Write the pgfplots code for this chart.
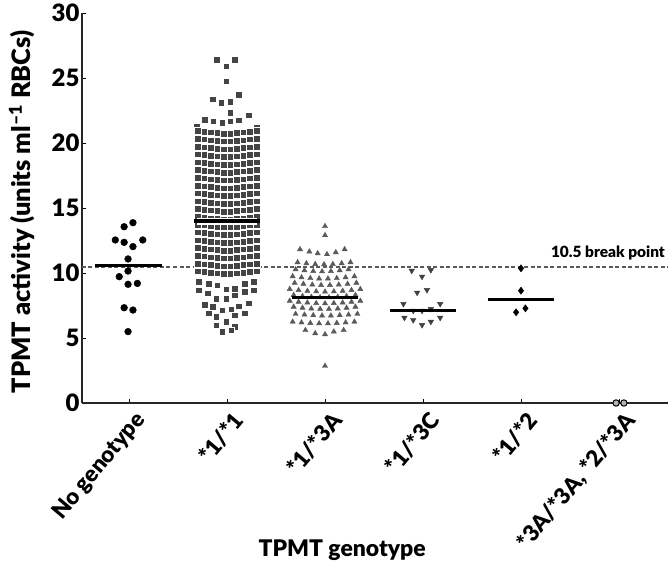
\documentclass[border=0pt]{standalone}
\usepackage{fontspec}
\setmainfont{Lato}[BoldFont={Lato Black}]
\usepackage{pgfplots}
\pgfplotsset{compat=1.18}
\definecolor{sq}{HTML}{444444}
\definecolor{tri}{HTML}{5A5A5A}
\definecolor{dash}{HTML}{5A5A5A}
\begin{document}
\begin{tikzpicture}
\begin{axis}[name=ax,
 width=586bp, height=390bp, scale only axis,
 xmin=-0.48, xmax=5.5, ymin=0, ymax=30,
 axis lines*=left,
 axis line style={line width=2.6bp, color=black!85},
 xtick={0,1,2,3,4,5},
 xticklabels={No genotype, *1/*1, *1/*3A, *1/*3C, *1/*2, {*3A/*3A, *2/*3A}},
 ytick={0,5,10,15,20,25,30},
 tick style={black, line width=0.6bp},
 major tick length=4bp,
 tick align=inside,
 xticklabel style={rotate=50, anchor=east, yshift=-18bp, xshift=1bp, font=\bfseries\fontsize{22.5}{22.5}\selectfont},
 yticklabel style={font=\bfseries\fontsize{24}{24}\selectfont, xshift=1bp},
 xlabel={TPMT genotype},
 ylabel={TPMT activity (units ml\textsuperscript{–1} RBCs)},
 xlabel style={font=\bfseries\fontsize{23}{23}\selectfont, at={(rel axis cs:0.444,0)}, anchor=center, yshift=-147bp},
 ylabel style={font=\bfseries\fontsize{25.5}{25.5}\selectfont, at={(rel axis cs:0,0.49)}, anchor=center, yshift=60bp},
 clip=false, clip marker paths=true,
 /pgf/number format/assume math mode=true,
]
% break point line
\addplot[color=dash, line width=2bp, dash pattern=on 4bp off 2.5bp] coordinates {(-0.48,10.5) (5.5,10.5)};
% No genotype
\addplot[only marks, mark=*, mark size=3.4bp, black] coordinates {
(0.04,13.87)(-0.05,13.56)(-0.14,12.54)(-0.05,12.36)(0.14,12.54)(0.04,12.03)(-0.01,11.08)
(-0.01,10.15)(-0.10,9.72)(-0.01,9.13)(0.085,9.2)(-0.05,7.33)(0.04,7.15)(-0.01,5.49)};
% *1/*1
\addplot[only marks, mark=square*, mark size=3.3bp, color=sq, mark options={draw=white, line width=0.25bp}] coordinates {
(0.895,26.43)(1.08,26.43)(0.99,25.92)(0.99,24.77)(0.85,23.36)(0.94,23.1)(1.03,23.18)(1.12,23.74)
(1.03,22.33)(1.22,22.13)(0.77,21.82)(0.86,21.69)(0.95,21.59)(1.03,21.69)(1.12,21.77)(1.30,21.18)(0.69,21.26)
(0.70,20.94)(0.767,20.89)(0.833,20.83)(0.90,20.78)(0.967,20.73)(1.033,20.73)(1.10,20.78)(1.167,20.83)(1.233,20.89)(1.30,20.94)
(0.70,20.34)(0.767,20.29)(0.833,20.23)(0.90,20.18)(0.967,20.13)(1.033,20.13)(1.10,20.18)(1.167,20.23)(1.233,20.29)(1.30,20.34)
(0.70,19.74)(0.767,19.69)(0.833,19.63)(0.90,19.58)(0.967,19.53)(1.033,19.53)(1.10,19.58)(1.167,19.63)(1.233,19.69)(1.30,19.74)
(0.70,19.14)(0.767,19.09)(0.833,19.03)(0.90,18.98)(0.967,18.93)(1.033,18.93)(1.10,18.98)(1.167,19.03)(1.233,19.09)(1.30,19.14)
(0.70,18.54)(0.767,18.49)(0.833,18.43)(0.90,18.38)(0.967,18.33)(1.033,18.33)(1.10,18.38)(1.167,18.43)(1.233,18.49)(1.30,18.54)
(0.70,17.94)(0.767,17.89)(0.833,17.83)(0.90,17.78)(0.967,17.73)(1.033,17.73)(1.10,17.78)(1.167,17.83)(1.233,17.89)(1.30,17.94)
(0.70,17.34)(0.767,17.29)(0.833,17.23)(0.90,17.18)(0.967,17.13)(1.033,17.13)(1.10,17.18)(1.167,17.23)(1.233,17.29)(1.30,17.34)
(0.70,16.74)(0.767,16.69)(0.833,16.63)(0.90,16.58)(0.967,16.53)(1.033,16.53)(1.10,16.58)(1.167,16.63)(1.233,16.69)(1.30,16.74)
(0.70,16.14)(0.767,16.09)(0.833,16.03)(0.90,15.98)(0.967,15.93)(1.033,15.93)(1.10,15.98)(1.167,16.03)(1.233,16.09)(1.30,16.14)
(0.70,15.54)(0.767,15.49)(0.833,15.43)(0.90,15.38)(0.967,15.33)(1.033,15.33)(1.10,15.38)(1.167,15.43)(1.233,15.49)(1.30,15.54)
(0.70,14.94)(0.767,14.89)(0.833,14.83)(0.90,14.78)(0.967,14.73)(1.033,14.73)(1.10,14.78)(1.167,14.83)(1.233,14.89)(1.30,14.94)
(0.70,14.34)(0.767,14.29)(0.833,14.23)(0.90,14.18)(0.967,14.13)(1.033,14.13)(1.10,14.18)(1.167,14.23)(1.233,14.29)(1.30,14.34)
(0.70,13.74)(0.767,13.69)(0.833,13.63)(0.90,13.58)(0.967,13.53)(1.033,13.53)(1.10,13.58)(1.167,13.63)(1.233,13.69)(1.30,13.74)
(0.70,13.14)(0.767,13.09)(0.833,13.03)(0.90,12.98)(0.967,12.93)(1.033,12.93)(1.10,12.98)(1.167,13.03)(1.233,13.09)(1.30,13.14)
(0.70,12.54)(0.767,12.49)(0.833,12.43)(0.90,12.38)(0.967,12.33)(1.033,12.33)(1.10,12.38)(1.167,12.43)(1.233,12.49)(1.30,12.54)
(0.70,11.94)(0.767,11.89)(0.833,11.83)(0.90,11.78)(0.967,11.73)(1.033,11.73)(1.10,11.78)(1.167,11.83)(1.233,11.89)(1.30,11.94)
(0.70,11.34)(0.767,11.29)(0.833,11.23)(0.90,11.18)(0.967,11.13)(1.033,11.13)(1.10,11.18)(1.167,11.23)(1.233,11.29)(1.30,11.34)
(0.70,10.74)(0.767,10.69)(0.833,10.63)(0.90,10.58)(0.967,10.53)(1.033,10.53)(1.10,10.58)(1.167,10.63)(1.233,10.69)(1.30,10.74)
(0.70,10.14)(0.767,10.09)(0.833,10.03)(0.90,9.98)(0.967,9.93)(1.033,9.93)(1.10,9.98)(1.167,10.03)(1.233,10.09)(1.30,10.14)
(0.71,9.33)(0.81,9.2)(0.90,9.08)(1.18,9.2)(1.27,9.33)(1.08,8.82)(1.08,8.3)(0.99,8.75)
(0.71,8.69)(0.80,8.44)(0.89,8.05)(0.99,8.05)(1.18,8.56)(1.27,8.69)
(0.77,7.59)(0.85,7.41)(0.95,7.15)(1.04,7.21)(1.12,7.46)(1.22,7.67)
(0.81,6.9)(0.89,6.64)(1.08,6.77)(1.18,6.9)(0.89,6.0)(0.99,6.25)(1.08,5.87)(0.95,5.49)(1.04,5.62)};
% *1/*3A
\addplot[only marks, mark=triangle*, mark size=3.0bp, color=tri] coordinates {
(2.0,13.6)(2.0,12.9)
(1.745,11.82)(1.84,11.64)(1.925,11.51)(2.02,11.44)(2.11,11.59)(2.2,11.82)
(1.72,10.82)(1.81,10.74)(1.90,10.68)(1.99,10.66)(2.08,10.68)(2.17,10.74)(2.26,10.82)
(1.70,10.28)(1.79,10.2)(1.88,10.14)(1.97,10.12)(2.06,10.14)(2.15,10.2)(2.24,10.28)
(1.67,9.74)(1.76,9.66)(1.85,9.6)(1.94,9.57)(2.03,9.57)(2.12,9.6)(2.21,9.66)(2.30,9.74)
(1.69,9.24)(1.78,9.16)(1.87,9.1)(1.96,9.07)(2.05,9.07)(2.14,9.1)(2.23,9.16)(2.32,9.24)
(1.64,8.76)(1.73,8.68)(1.82,8.62)(1.91,8.58)(2.0,8.56)(2.09,8.58)(2.18,8.62)(2.27,8.68)(2.36,8.76)
(1.68,8.3)(1.77,8.22)(1.86,8.16)(1.95,8.13)(2.04,8.13)(2.13,8.16)(2.22,8.22)(2.31,8.3)
(1.64,7.86)(1.73,7.78)(1.82,7.72)(1.91,7.68)(2.0,7.66)(2.09,7.68)(2.18,7.72)(2.27,7.78)(2.36,7.86)
(1.68,7.4)(1.77,7.32)(1.86,7.26)(1.95,7.23)(2.04,7.23)(2.13,7.26)(2.22,7.32)(2.31,7.4)
(1.70,6.85)(1.79,6.79)(1.88,6.75)(1.97,6.72)(2.06,6.72)(2.15,6.75)(2.24,6.79)(2.33,6.85)
(1.67,6.25)(1.76,6.19)(1.85,6.15)(1.94,6.12)(2.03,6.12)(2.12,6.15)(2.21,6.19)(2.30,6.25)
(1.80,5.6)(1.90,5.36)(2.0,5.28)(2.09,5.49)(2.19,5.6)
(2.0,2.85)};
% *1/*3C
\addplot[only marks, mark=triangle*, mark size=3.2bp, color=black!75, mark options={rotate=180}] coordinates {
(2.885,10.18)(2.99,9.72)(3.08,10.23)(2.94,8.49)(3.04,8.69)(2.80,7.62)(3.175,7.62)
(2.90,7.1)(2.99,7.1)(3.08,7.23)(2.81,6.56)(2.90,6.38)(2.99,6.0)(3.08,6.25)(3.175,6.56)};
% *1/*2
\addplot[only marks, mark=diamond*, mark size=3.6bp, black] coordinates {
(4.0,10.36)(4.0,8.64)(3.95,6.98)(4.045,7.28)};
% *3A/*3A, *2/*3A
\addplot[only marks, mark=*, mark size=3.2bp, color=black, mark options={fill=gray!60, line width=1bp}] coordinates {
(4.97,0)(5.05,0)};
% medians
\addplot[black, line width=3bp] coordinates {(-0.35,10.6) (0.34,10.6)};
\addplot[white, line width=7bp] coordinates {(0.69,14.0) (1.31,14.0)};
\addplot[black, line width=3.5bp] coordinates {(0.66,14.0) (1.34,14.0)};
\addplot[black, line width=3bp] coordinates {(1.66,8.1) (2.34,8.1)};
\addplot[black, line width=3bp] coordinates {(2.66,7.1) (3.34,7.1)};
\addplot[black, line width=3bp] coordinates {(3.66,8.0) (4.34,8.0)};
\node[anchor=south east, font=\bfseries\fontsize{15.5}{15.5}\selectfont, inner sep=0pt] at (axis cs:5.47,11.0) {10.5 break point};
\end{axis}
\pgfresetboundingbox
\path ([shift={(-82bp,-165bp)}]ax.south west) rectangle ([shift={(0bp,13bp)}]ax.north east);
\end{tikzpicture}
\end{document}
